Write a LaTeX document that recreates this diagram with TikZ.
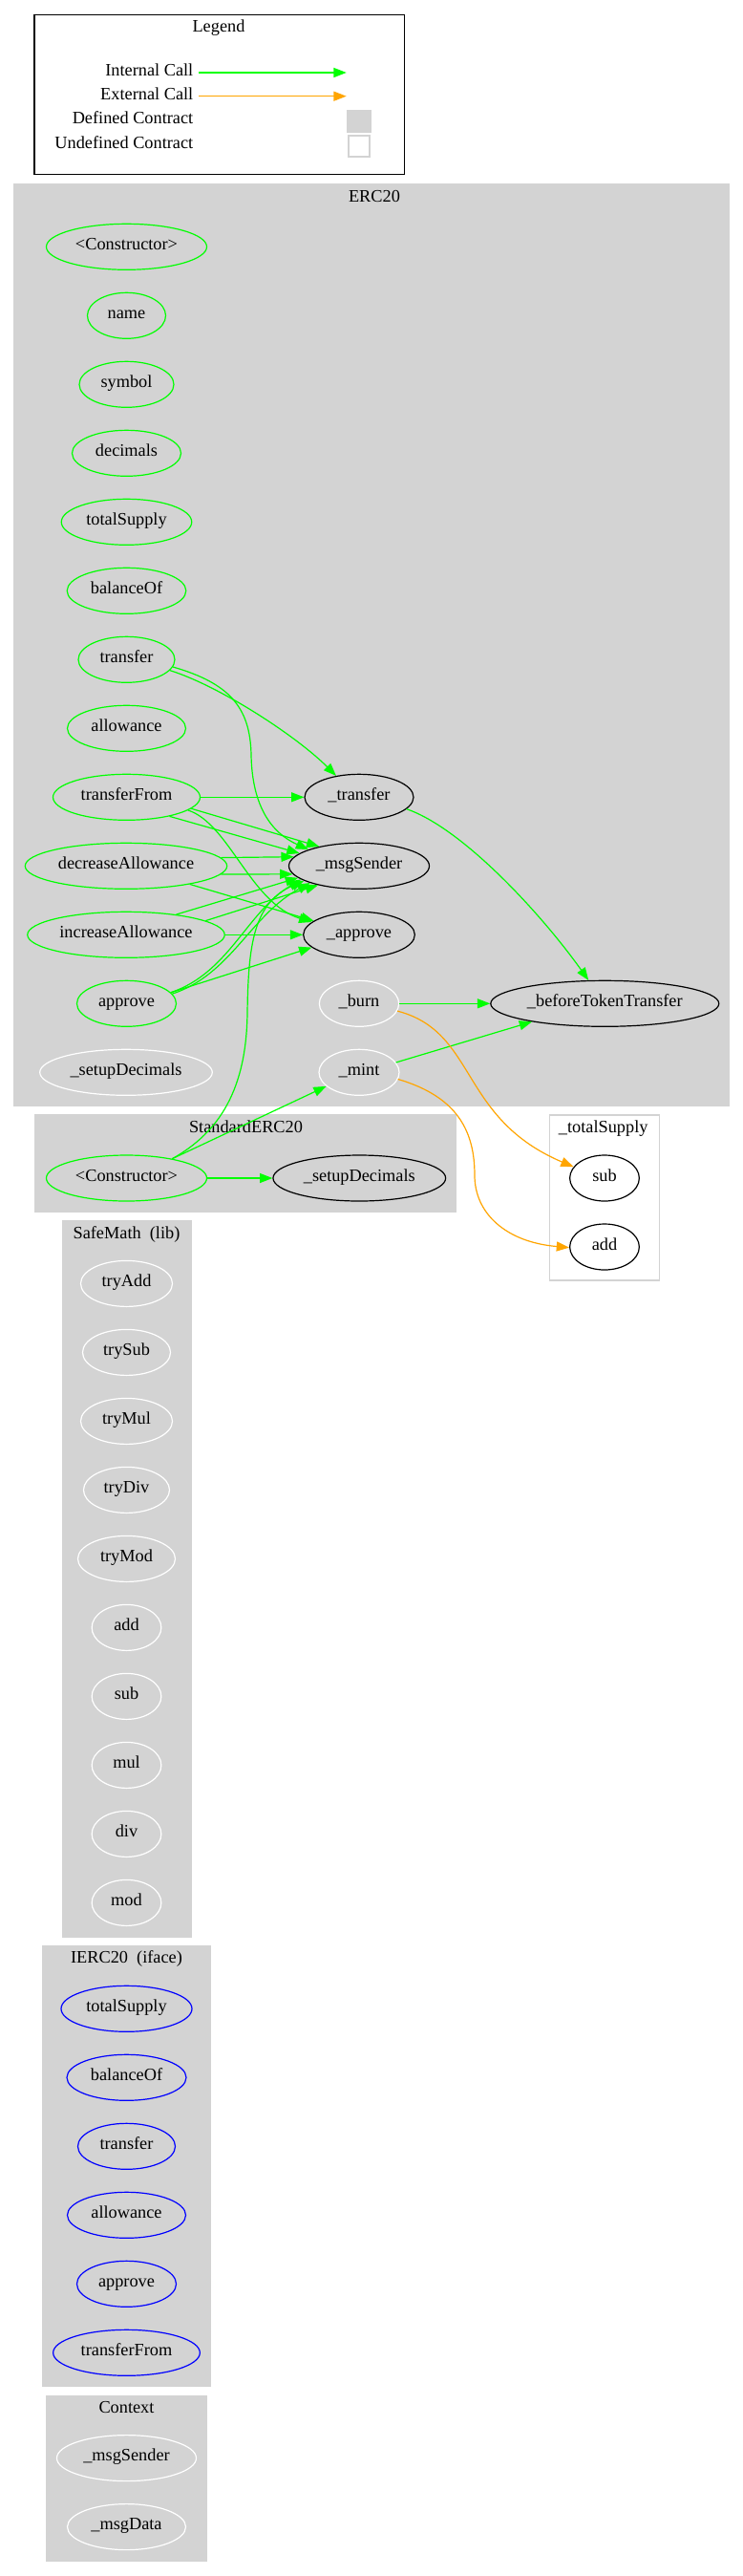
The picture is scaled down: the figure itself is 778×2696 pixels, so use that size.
\documentclass[tikz,border=0pt]{standalone}
\usepackage{fontspec}
\setmainfont{Liberation Serif}
\usetikzlibrary{shapes.geometric,arrows.meta}
\definecolor{lgray}{HTML}{D3D3D3}
\definecolor{ggreen}{HTML}{00FF00}
\definecolor{gorange}{HTML}{FFA500}
\definecolor{gblue}{HTML}{0000FF}
\begin{document}
\begin{tikzpicture}[x=1pt,y=-1pt,
  txt/.style={font=\fontsize{18.3}{22}\selectfont, inner sep=0pt, text height=0.75em, text depth=0.13em},
  fn/.style={txt, ellipse, minimum height=48pt, line width=1.2pt},
  fpub/.style={fn, draw=ggreen},
  fint/.style={fn, draw=black},
  fwht/.style={fn, draw=white},
  fifc/.style={fn, draw=gblue},
  clbox/.style={fill=lgray, draw=lgray, line width=1.2pt},
  ic/.style={draw=ggreen, line width=1.2pt, -{Triangle[length=13.3pt,width=10pt]}},
  ec/.style={draw=gorange, line width=1.2pt, -{Triangle[length=13.3pt,width=10pt]}},
]
\fill[white] (0,0) rectangle (778,2696);
\path[use as bounding box] (0,0) rectangle (778,2696);

% Legend
\draw[line width=1.2pt] (36,15.7) rectangle (423.3,182.7);
\node[txt] (lgt) at (229,30.5) {Legend};
\node[txt, anchor=east] (lg1) at (202.5,76.3) {Internal Call};
\node[txt, anchor=east] (lg2) at (202.5,101) {External Call};
\node[txt, anchor=east] (lg3) at (202.5,126.7) {Defined Contract};
\node[txt, anchor=east] (lg4) at (202.5,152) {Undefined Contract};
\coordinate (la1) at (208,76);
\coordinate (la2) at (362.7,76);
\coordinate (lb1) at (208,100.7);
\coordinate (lb2) at (362.7,100.7);
\draw[ic] (la1) -- (la2);
\draw[ec] (lb1) -- (lb2);
\fill[lgray] (363,114.7) rectangle (389,139.3);
\draw[lgray, line width=1.2pt, fill=white] (365,142) rectangle (387,164);

% Clusters
\draw[clbox] (15,192.5) rectangle (763,1157.5);
\node[txt] (tERC) at (392,208.5) {ERC20};
\draw[clbox] (37,1167) rectangle (477.3,1268.3);
\node[txt] (tSTD) at (257.5,1182) {StandardERC20};
\draw[lgray, line width=1.2pt, fill=white] (575.7,1167) rectangle (690.7,1340);
\node[txt] (tTS) at (631.7,1182) {\_totalSupply};
\draw[clbox] (65.5,1278) rectangle (200.5,2027);
\node[txt] (tSM) at (132.5,1293.4) {SafeMath\ \ (lib)};
\draw[clbox] (45,2036.5) rectangle (220,2497.6);
\node[txt] (tIE) at (132.5,2051.5) {IERC20\ \ (iface)};
\draw[clbox] (48.3,2507.5) rectangle (216.7,2680);
\node[txt] (tCX) at (132.5,2522) {Context};

% ERC20 nodes
\node[fpub, minimum width=168pt] (ecns) at (132.5,258.3) {<Constructor>};
\node[fpub, minimum width=82pt] (ename) at (132.5,330.3) {name};
\node[fpub, minimum width=99pt] (esym) at (132.5,402.3) {symbol};
\node[fpub, minimum width=114pt] (edec) at (132.5,474.3) {decimals};
\node[fpub, minimum width=136.5pt] (etot) at (132.5,546.3) {totalSupply};
\node[fpub, minimum width=124.6pt] (ebal) at (132.5,618.3) {balanceOf};
\node[fpub, minimum width=101pt] (etr) at (132.5,690.3) {transfer};
\node[fpub, minimum width=124pt] (eall) at (132.5,762.3) {allowance};
\node[fpub, minimum width=154pt] (etf) at (132.5,834.3) {transferFrom};
\node[fpub, minimum width=211.4pt] (eda) at (132,906.3) {decreaseAllowance};
\node[fpub, minimum width=206.5pt] (eia) at (132,978.3) {increaseAllowance};
\node[fpub, minimum width=104pt] (eap) at (132.5,1050.3) {approve};
\node[fwht, minimum width=180.6pt] (esd) at (132,1122.3) {\_setupDecimals};
\node[fint, minimum width=114pt] (itr) at (376,834.3) {\_transfer};
\node[fint, minimum width=147pt] (ims) at (376,906.3) {\_msgSender};
\node[fint, minimum width=116.7pt] (iap) at (376,978.3) {\_approve};
\node[fwht, minimum width=83.3pt] (ibu) at (376,1050.3) {\_burn};
\node[fwht, minimum width=84pt] (imi) at (376,1122.3) {\_mint};
\node[fint, minimum width=239pt] (ibt) at (633.3,1050.3) {\_beforeTokenTransfer};

% StandardERC20
\node[fpub, minimum width=168pt] (scns) at (132.5,1233) {<Constructor>};
\node[fint, minimum width=180.7pt] (ssd) at (376.3,1233) {\_setupDecimals};

% _totalSupply
\node[fint, minimum width=72.7pt] (tsub) at (633,1233) {sub};
\node[fint, minimum width=72.7pt] (tadd) at (633,1305) {add};

% SafeMath
\node[fwht, minimum width=96pt] (mtadd) at (132.5,1343.4) {tryAdd};
\node[fwht, minimum width=92pt] (mtsub) at (132.5,1415.4) {trySub};
\node[fwht, minimum width=96pt] (mtmul) at (132.5,1487.4) {tryMul};
\node[fwht, minimum width=90pt] (mtdiv) at (132.5,1559.4) {tryDiv};
\node[fwht, minimum width=102pt] (mtmod) at (132.5,1631.4) {tryMod};
\node[fwht, minimum width=72.7pt] (madd) at (132.5,1703.4) {add};
\node[fwht, minimum width=72.7pt] (msub) at (132.5,1775.4) {sub};
\node[fwht, minimum width=72.7pt] (mmul) at (132.5,1847.4) {mul};
\node[fwht, minimum width=72.7pt] (mdiv) at (132.5,1919.4) {div};
\node[fwht, minimum width=72.7pt] (mmod) at (132.5,1991.4) {mod};

% IERC20
\node[fifc, minimum width=137pt] (ftot) at (132.5,2102.3) {totalSupply};
\node[fifc, minimum width=125pt] (fbal) at (132.5,2174.3) {balanceOf};
\node[fifc, minimum width=102pt] (ftr) at (132.5,2246.3) {transfer};
\node[fifc, minimum width=124pt] (fall) at (132.5,2318.3) {allowance};
\node[fifc, minimum width=104pt] (fap) at (132.5,2390.3) {approve};
\node[fifc, minimum width=153.7pt] (ftf) at (132.5,2462.3) {transferFrom};

% Context
\node[fwht, minimum width=146pt] (cms) at (132.5,2572.6) {\_msgSender};
\node[fwht, minimum width=124pt] (cmd) at (132.5,2644.6) {\_msgData};

% Edges
\draw[ic] (etr.-14.5) .. controls (230,718) and (310,770) .. (itr.137.7);
\draw[ic] (etr.-9) .. controls (240,715) and (262,740) .. (263,790) .. controls (264,845) and (285,872) .. (ims.162.7);
\draw[ic] (etf.east) -- (itr.west);
\draw[ic] (etf.-10.4) -- (ims.154.6);
\draw[ic] (etf.-24.3) -- (ims.168.9);
\draw[ic] (etf.-12.8) .. controls (240,862) and (262,945) .. (iap.165.6);
\draw[ic] (eda.5) -- (ims.172.9);
\draw[ic] (eda.-5) -- (ims.187.1);
\draw[ic] (eda.-16.5) -- (iap.163.4);
\draw[ic] (eia.22.7) -- (ims.191.7);
\draw[ic] (eia.10.8) -- (ims.205.5);
\draw[ic] (eia.east) -- (iap.west);
\draw[ic] (eap.14.9) -- (iap.195.2);
\draw[ic] (eap.14.6) .. controls (240,1018) and (258,955) .. (ims.193.5);
\draw[ic] (eap.12) .. controls (242,1020) and (262,958) .. (ims.199.2);
\draw[ic] (itr.-14) .. controls (485,867) and (568,958) .. (ibt.125.6);
\draw[ic] (ibu.east) -- (ibt.west);
\draw[ic] (imi.15.2) -- (ibt.194.8);
\draw[ec] (ibu.-11.1) .. controls (500,1080) and (480,1170) .. (tsub.160.1);
\draw[ec] (imi.-10.7) .. controls (480,1148) and (497,1185) .. (497,1230) .. controls (497,1270) and (530,1300) .. (tadd.181.6);
\draw[ic] (scns.23.9) -- (imi.203.8);
\draw[ic] (scns.east) -- (ssd.west);
\draw[ic] (scns.23.9) .. controls (230,1185) and (258,1140) .. (259,1060) .. controls (260,990) and (265,945) .. (ims.195.2);
\end{tikzpicture}
\end{document}
